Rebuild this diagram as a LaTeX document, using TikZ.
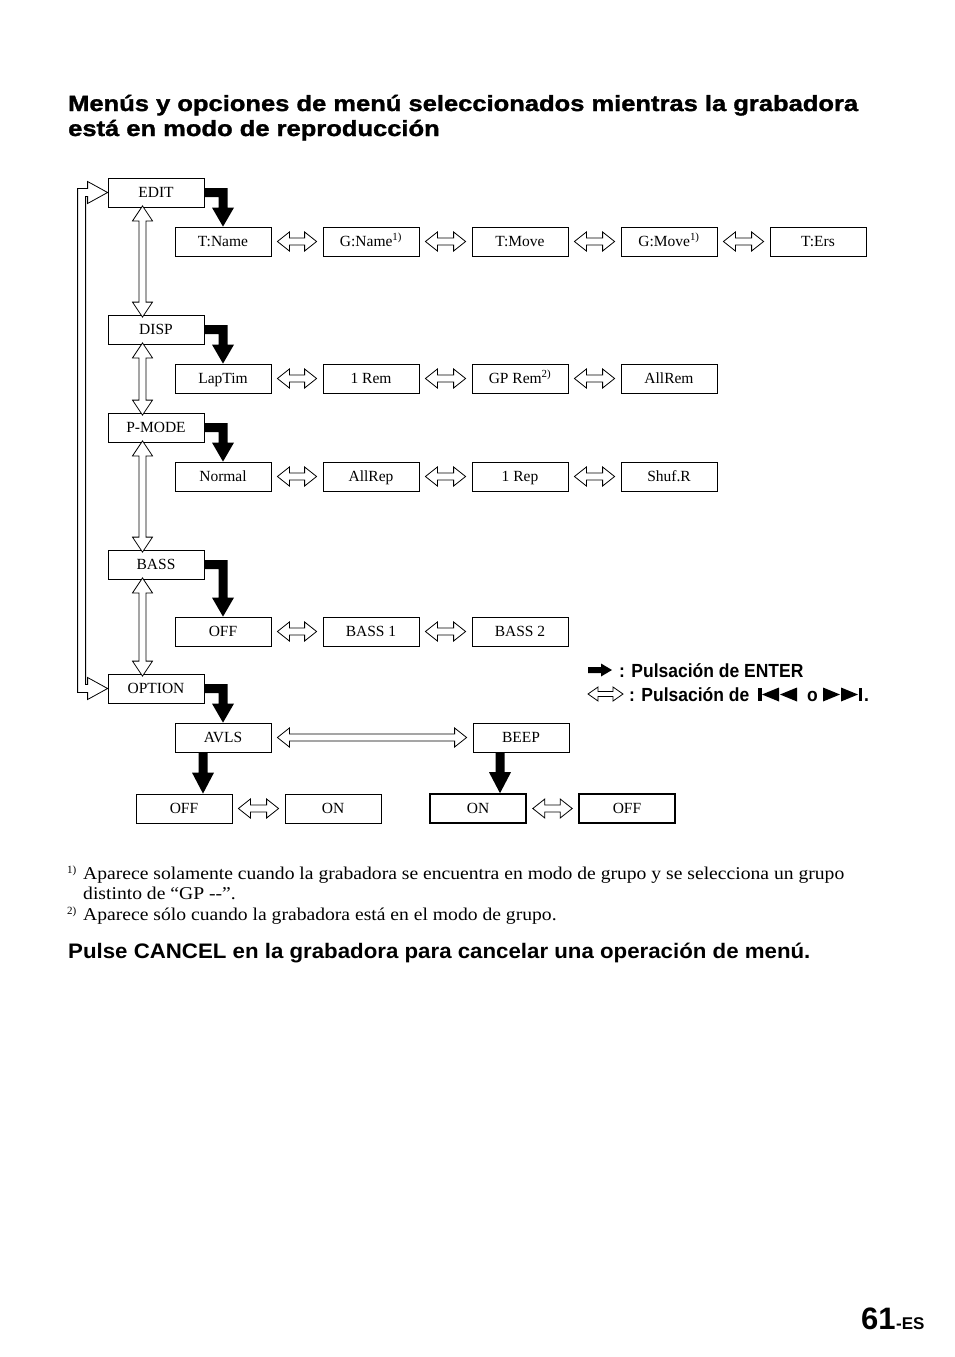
\documentclass[tikz,border=0pt]{standalone}
\usepackage{fontspec}
\setmainfont{Liberation Serif}
\newfontfamily\headfont[FakeStretch=1.16,FakeBold=1.4]{Liberation Sans}
\newfontfamily\cancelfont[FakeStretch=1.06]{Liberation Sans}
\newfontfamily\pagefont{Liberation Sans}
\newfontfamily\footfont[FakeStretch=1.09]{Liberation Serif}
\newfontfamily\condfont[FakeStretch=0.92]{Liberation Sans}
\usetikzlibrary{calc,shadows}

\newcommand\hdarrow[2]{%
  \draw[hollow] let \p1=(#1), \p2=(#2) in
    (\x1,\y1) -- (\x1+12pt,\y1+9.5pt) -- (\x1+12pt,\y1+3.5pt) -- (\x2-12pt,\y1+3.5pt) -- (\x2-12pt,\y1+9.5pt) -- (\x2,\y1)
    -- (\x2-12pt,\y1-9.5pt) -- (\x2-12pt,\y1-3.5pt) -- (\x1+12pt,\y1-3.5pt) -- (\x1+12pt,\y1-9.5pt) -- cycle;}
\newcommand\vdarrow[2]{%
  \draw[hollow] let \p1=(#1), \p2=(#2) in
    (\x1,\y1) -- (\x1+10pt,\y1-15pt) -- (\x1+3.5pt,\y1-15pt) -- (\x1+3.5pt,\y2+15pt) -- (\x1+10pt,\y2+15pt) -- (\x1,\y2)
    -- (\x1-10pt,\y2+15pt) -- (\x1-3.5pt,\y2+15pt) -- (\x1-3.5pt,\y1-15pt) -- (\x1-10pt,\y1-15pt) -- cycle;}
\newcommand\blkarrow[2]{%
  \fill let \p1=(#1.east), \p2=(#2.north) in
    (\x1,\y1+4.5pt) -- (\x2+4.5pt,\y1+4.5pt) -- (\x2+4.5pt,\y2+19pt) -- (\x2+11pt,\y2+19pt) -- (\x2,\y2)
    -- (\x2-11pt,\y2+19pt) -- (\x2-4.5pt,\y2+19pt) -- (\x2-4.5pt,\y1-4.5pt) -- (\x1,\y1-4.5pt) -- cycle;}
\newcommand\vblkarrow[2]{%
  \fill let \p1=(#1), \p2=(#2) in
    (\x1-4.5pt,\y1) -- (\x1+4.5pt,\y1) -- (\x1+4.5pt,\y2+21pt) -- (\x1+11pt,\y2+21pt) -- (\x1,\y2)
    -- (\x1-11pt,\y2+21pt) -- (\x1-4.5pt,\y2+21pt) -- cycle;}

\begin{document}
\begin{tikzpicture}[x=1pt,y=-1pt,
  mbox/.style={draw, line width=0.8pt, fill=white, minimum width=96pt, minimum height=29pt, inner sep=0pt,
    text height=11pt, text depth=2pt,
    font=\fontsize{15.5}{18}\selectfont,
    drop shadow={shadow xshift=1.3pt, shadow yshift=-1.3pt, fill=black, opacity=1}},
  tbox/.style={mbox, line width=1.6pt},
  hollow/.style={draw, line width=0.8pt, fill=white, line join=miter},
  title/.style={anchor=base west, inner sep=0pt, font=\headfont\bfseries\fontsize{22}{25}\selectfont},
  foot/.style={anchor=base west, inner sep=0pt, font=\footfont\fontsize{18}{20}\selectfont},
  fmark/.style={anchor=base west, inner sep=0pt, font=\fontsize{11}{13}\selectfont},
  legend/.style={anchor=base west, inner sep=0pt, font=\condfont\bfseries\fontsize{19}{22}\selectfont},
]
\useasboundingbox (0,0) rectangle (954,1357);
\fill[white] (0,0) rectangle (954,1357);

% title
\node[title] (t1) at (68,111) {Menús y opciones de menú seleccionados mientras la grabadora};
\node[title] (t2) at (68,136) {está en modo de reproducción};

% menu boxes
\node[mbox] (edit) at (156,192.5) {EDIT};
\node[mbox] (tname) at (223,241.5) {T:Name};
\node[mbox] (gname) at (371,241.5) {G:Name\textsuperscript{1)}};
\node[mbox] (tmove) at (520,241.5) {T:Move};
\node[mbox] (gmove) at (669,241.5) {G:Move\textsuperscript{1)}};
\node[mbox] (ters) at (818,241.5) {T:Ers};

\node[mbox] (disp) at (156,329.5) {DISP};
\node[mbox] (lap) at (223,378.5) {LapTim};
\node[mbox] (rem1) at (371,378.5) {1 Rem};
\node[mbox] (gprem) at (520,378.5) {GP Rem\textsuperscript{2)}};
\node[mbox] (allrem) at (669,378.5) {AllRem};

\node[mbox] (pmode) at (156,427.5) {P-MODE};
\node[mbox] (normal) at (223,476.5) {Normal};
\node[mbox] (allrep) at (371,476.5) {AllRep};
\node[mbox] (rep1) at (520,476.5) {1 Rep};
\node[mbox] (shuf) at (669,476.5) {Shuf.R};

\node[mbox] (bass) at (156,564.5) {BASS};
\node[mbox] (boff) at (223,631.5) {OFF};
\node[mbox] (bass1) at (371,631.5) {BASS 1};
\node[mbox] (bass2) at (520,631.5) {BASS 2};

\node[mbox] (option) at (156,688.5) {OPTION};
\node[mbox] (avls) at (223,737.5) {AVLS};
\node[mbox] (beep) at (521,737.5) {BEEP};
\node[mbox] (aoff) at (184,808.5) {OFF};
\node[mbox] (aon) at (333,808.5) {ON};
\node[tbox] (bon) at (478,808.5) {ON};
\node[tbox] (boff2) at (627,808.5) {OFF};

% horizontal hollow double arrows
\foreach \a/\b in {tname/gname, gname/tmove, tmove/gmove, gmove/ters,
                   lap/rem1, rem1/gprem, gprem/allrem,
                   normal/allrep, allrep/rep1, rep1/shuf,
                   boff/bass1, bass1/bass2,
                   aoff/aon, bon/boff2}
  {\hdarrow{[xshift=6pt]\a.east}{[xshift=-6pt]\b.west}}
\hdarrow{[xshift=6pt]avls.east}{[xshift=-6pt]beep.west}

% vertical hollow double arrows
\foreach \a/\b in {edit/disp, disp/pmode, pmode/bass, bass/option}
  {\vdarrow{[xshift=-13.5pt,yshift=1.5pt]\a.south}{[xshift=-13.5pt,yshift=-2.5pt]\b.north}}

% loop from OPTION back to EDIT
\draw[hollow] let \p1=(edit.west), \p2=(option.west) in
  (\x1,\y1) -- (\x1-20pt,\y1+11pt) -- (\x1-20pt,\y1+4pt) -- (\x1-30pt,\y1+4pt) -- (\x1-30pt,\y2-4pt)
  -- (\x2-20pt,\y2-4pt) -- (\x2-20pt,\y2-11pt) -- (\x2,\y2) -- (\x2-20pt,\y2+11pt) -- (\x2-20pt,\y2+4pt)
  -- (\x2-22pt,\y2+4pt) -- (\x1-22pt,\y1-4pt) -- (\x1-20pt,\y1-4pt) -- (\x1-20pt,\y1-11pt) -- cycle;

% black ENTER arrows
\blkarrow{edit}{tname}
\blkarrow{disp}{lap}
\blkarrow{pmode}{normal}
\blkarrow{bass}{boff}
\blkarrow{option}{avls}
\vblkarrow{[xshift=-20pt]avls.south}{[xshift=-20pt]avls.south |- aoff.north}
\vblkarrow{[xshift=-21pt]beep.south}{[xshift=-21pt]beep.south |- bon.north}

% legend
\coordinate (la) at (588,670);
\fill let \p1=(la) in (\x1,\y1+3pt) -- (\x1+13pt,\y1+3pt) -- (\x1+13pt,\y1+6.5pt) -- (\x1+24pt,\y1)
  -- (\x1+13pt,\y1-6.5pt) -- (\x1+13pt,\y1-3pt) -- (\x1,\y1-3pt) -- cycle;
\node[legend] (leg1) at (619,677) {: Pulsación de ENTER};
\coordinate (lb1) at (588,694);
\coordinate (lb2) at (623,694);
\draw[hollow] let \p1=(lb1), \p2=(lb2) in
    (\x1,\y1) -- (\x1+10pt,\y1+7pt) -- (\x1+10pt,\y1+2.5pt) -- (\x2-10pt,\y1+2.5pt) -- (\x2-10pt,\y1+7pt) -- (\x2,\y1)
    -- (\x2-10pt,\y1-7pt) -- (\x2-10pt,\y1-2.5pt) -- (\x1+10pt,\y1-2.5pt) -- (\x1+10pt,\y1-7pt) -- cycle;
\node[legend] (leg2) at (629,701) {: Pulsación de};
% previous-track icon
\fill (758,688) rectangle (761.5,701);
\fill (762,694.5) -- (779,687.5) -- (779,701.5) -- cycle;
\fill (780,694.5) -- (797,687.5) -- (797,701.5) -- cycle;
\node[legend] (lo) at (807,701) {o};
% next-track icon
\fill (823,687.5) -- (840,694.5) -- (823,701.5) -- cycle;
\fill (841,687.5) -- (858,694.5) -- (841,701.5) -- cycle;
\fill (858.5,688) rectangle (862,701);
\node[legend] (ldot) at (864,701) {.};

% footnotes
\node[fmark] (f1m) at (67,873) {1)};
\node[foot] (f1) at (83,879) {Aparece solamente cuando la grabadora se encuentra en modo de grupo y se selecciona un grupo};
\node[foot] (f1b) at (83,899) {distinto de “GP -{}-”.};
\node[fmark] (f2m) at (67,914) {2)};
\node[foot] (f2) at (83,920) {Aparece sólo cuando la grabadora está en el modo de grupo.};

\node[anchor=base west, inner sep=0pt, font=\cancelfont\bfseries\fontsize{21}{24}\selectfont] (cancel) at (68,958)
  {Pulse CANCEL en la grabadora para cancelar una operación de menú.};

% page number
\node[anchor=base west, inner sep=0pt, font=\pagefont\bfseries\fontsize{31}{34}\selectfont] (pn) at (861,1329) {61};
\node[anchor=base west, inner sep=0pt, font=\pagefont\bfseries\fontsize{17}{20}\selectfont] (pes) at (pn.base east) {-ES};
\end{tikzpicture}
\end{document}
